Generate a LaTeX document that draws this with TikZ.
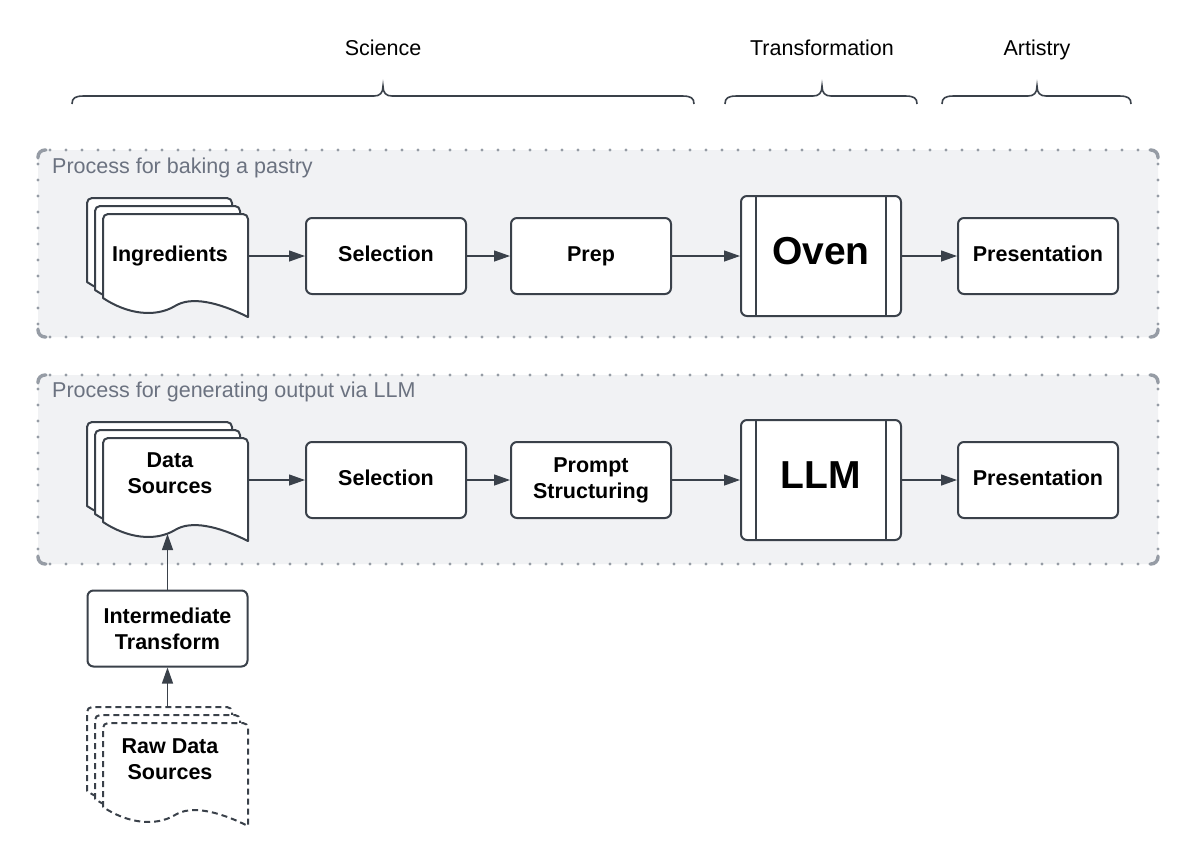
\documentclass[tikz,border=0pt]{standalone}
\usepackage{fontspec}
\setmainfont{Liberation Sans}
\usetikzlibrary{arrows.meta}
\definecolor{lc}{RGB}{58,65,74}
\definecolor{gfill}{RGB}{241,242,244}
\definecolor{gdot}{RGB}{150,156,165}
\definecolor{glab}{RGB}{107,114,128}
\newcommand\boxfont{\fontsize{21.5}{26}\selectfont\bfseries}
\newcommand\bigfont{\fontsize{39}{44}\selectfont\bfseries}
\newcommand\labfont{\fontsize{21.5}{26}\selectfont}
% document sheet: top-left x, y, style
\newcommand\docsheet[3]{%
  \begin{scope}[shift={(#1,#2)}]
    \draw[#3] (0,84) [rounded corners=5pt] -- (0,0) -- (145,0) -- (145,50) [sharp corners] -- (145,103)
      .. controls (115,88) and (88,82) .. (72,92)
      .. controls (52,104) and (24,100) .. (0,84) -- cycle;
  \end{scope}}
% curly brace: left end, peak, right end
\newcommand\catbrace[3]{%
  \draw[bracestyle] (#1,104) .. controls (#1,98) and (#1+3,96) .. (#1+12,96)
    -- (#2-9,96) .. controls (#2-3,96) and (#2,93) .. (#2,86)
    .. controls (#2,93) and (#2+3,96) .. (#2+9,96)
    -- (#3-12,96) .. controls (#3-3,96) and (#3,98) .. (#3,104);}
% group box
\newcommand\groupbox[4]{%
  \fill[gfill, rounded corners=8pt] (#1,#2) rectangle (#3,#4);
  \draw[gdot, line width=3.4pt, line cap=round, dash pattern=on 0pt off 16pt] (#1+12,#2) -- (#3-10,#2);
  \draw[gdot, line width=3.4pt, line cap=round, dash pattern=on 0pt off 16pt] (#1+12,#4) -- (#3-10,#4);
  \draw[gdot, line width=3.4pt, line cap=round, dash pattern=on 0pt off 16pt] (#1,#2+14) -- (#1,#4-10);
  \draw[gdot, line width=3.4pt, line cap=round, dash pattern=on 0pt off 16pt] (#3,#2+14) -- (#3,#4-10);
  \draw[gdot, line width=3.4pt, line cap=round] (#1,#2+8) [rounded corners=7pt] -- (#1,#2) -- (#1+8,#2);
  \draw[gdot, line width=3.4pt, line cap=round] (#3-8,#2) [rounded corners=7pt] -- (#3,#2) -- (#3,#2+8);
  \draw[gdot, line width=3.4pt, line cap=round] (#1,#4-8) [rounded corners=7pt] -- (#1,#4) -- (#1+8,#4);
  \draw[gdot, line width=3.4pt, line cap=round] (#3-8,#4) [rounded corners=7pt] -- (#3,#4) -- (#3,#4-8);}
\tikzset{
  proc/.style={draw=lc, line width=2pt, rounded corners=6pt, fill=white,
    minimum width=160pt, minimum height=76pt, font=\boxfont, align=center, inner sep=0pt},
  oneline/.style={text height=15.5pt, text depth=5pt},
  bigbox/.style={draw=lc, line width=2pt, rounded corners=6pt, fill=white,
    minimum width=160pt, minimum height=120pt, font=\bigfont, inner sep=0pt, text depth=10pt},
  sheet/.style={draw=lc, line width=2pt, fill=white, line join=round},
  dsheet/.style={sheet, dash pattern=on 6pt off 4pt},
  ghost/.style={minimum width=145pt, minimum height=84pt, inner sep=0pt, outer sep=0pt, anchor=north west},
  doctext/.style={font=\boxfont, align=center, inner sep=0pt},
  grouplab/.style={anchor=base west, text=glab, font=\labfont, inner sep=0pt},
  cat/.style={anchor=base, font=\labfont, inner sep=0pt},
  bracestyle/.style={draw=lc, line width=1.6pt},
  arr/.style={draw=lc, line width=1.3pt, -{Triangle[length=16pt,width=11pt]}},
  sidebar/.style={draw=lc, line width=2pt}
}
\begin{document}
\begin{tikzpicture}[x=1pt,y=-1pt]
\useasboundingbox (0,0) rectangle (1196,855);
\fill[white] (0,0) rectangle (1196,855);

% categories
\node[cat] (science) at (383,55) {Science};
\node[cat] (transf) at (822,55) {Transformation};
\node[cat] (artistry) at (1037,55) {Artistry};
\catbrace{72}{383}{694}
\catbrace{725}{822}{917}
\catbrace{942}{1037}{1131}

% groups
\groupbox{38}{150}{1158}{337}
\groupbox{38}{375}{1158}{564}
\node[grouplab] (g1) at (52,173) {Process for baking a pastry};
\node[grouplab] (g2) at (52,397) {Process for generating output via LLM};

% row 1
\docsheet{87}{198}{sheet}
\docsheet{95}{206}{sheet}
\docsheet{103}{214}{sheet}
\node[ghost] (ingdoc) at (103,214) {};
\node[doctext, anchor=base] (ing) at (170,261) {Ingredients};
\node[proc, oneline] (sel1) at (386,256) {Selection};
\node[proc, oneline] (prep) at (591,256) {Prep};
\node[bigbox] (oven) at (821,256) {Oven};
\draw[sidebar] ([xshift=16pt]oven.north west) -- ([xshift=16pt]oven.south west);
\draw[sidebar] ([xshift=-16pt]oven.north east) -- ([xshift=-16pt]oven.south east);
\node[proc, oneline] (pres1) at (1038,256) {Presentation};
\draw[arr] (ingdoc.east) -- (sel1.west);
\draw[arr] (sel1) -- (prep);
\draw[arr] (prep) -- (oven);
\draw[arr] (oven) -- (pres1);

% row 2
\docsheet{87}{422}{sheet}
\docsheet{95}{430}{sheet}
\docsheet{103}{438}{sheet}
\node[ghost] (dsdoc) at (103,438) {};
\node[doctext] (ds) at (170,473) {Data\\Sources};
\node[proc, oneline] (sel2) at (386,480) {Selection};
\node[proc] (prompt) at (591,480) {Prompt\\Structuring};
\node[bigbox] (llm) at (821,480) {LLM};
\draw[sidebar] ([xshift=16pt]llm.north west) -- ([xshift=16pt]llm.south west);
\draw[sidebar] ([xshift=-16pt]llm.north east) -- ([xshift=-16pt]llm.south east);
\node[proc, oneline] (pres2) at (1038,480) {Presentation};
\draw[arr] (dsdoc.east) -- (sel2.west);
\draw[arr] (sel2) -- (prompt);
\draw[arr] (prompt) -- (llm);
\draw[arr] (llm) -- (pres2);

% lower chain
\node[proc] (inter) at (167.5,628.5) {Intermediate\\Transform};
\coordinate (dsbot) at (167.5,534);
\draw[arr] (inter.north) -- (dsbot);
\docsheet{87}{707}{dsheet}
\docsheet{95}{715}{dsheet}
\docsheet{103}{723}{dsheet}
\node[doctext] (raw) at (170,759.5) {Raw Data\\Sources};
\coordinate (rawtop) at (167.5,707);
\draw[arr] (rawtop) -- (inter.south);
\end{tikzpicture}
\end{document}
